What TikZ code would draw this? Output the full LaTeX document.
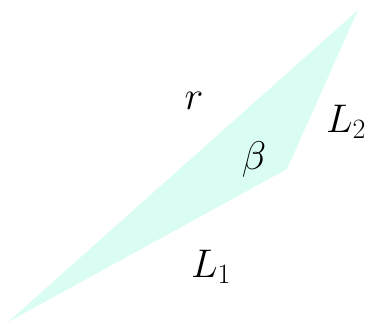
\documentclass[tikz,border=0pt]{standalone}
\usepackage{fix-cm}
\definecolor{fillc}{RGB}{217,252,243}
\begin{document}
\begin{tikzpicture}[x=1pt,y=-1pt,
  lbl/.style={inner sep=0pt,font=\fontsize{40}{46}\selectfont}]
\useasboundingbox (0,0) rectangle (371,323);
\coordinate (A) at (8,322);
\coordinate (B) at (358,10);
\coordinate (C) at (287,169);
\fill[fillc] (A) -- (B) -- (C) -- cycle;
\node[lbl] (r) at (194,101) {$r$};
\node[lbl] (beta) at (254,159) {$\beta$};
\node[lbl] (L2) at (346,122) {$L_2$};
\node[lbl] (L1) at (211,267) {$L_1$};
\end{tikzpicture}
\end{document}
